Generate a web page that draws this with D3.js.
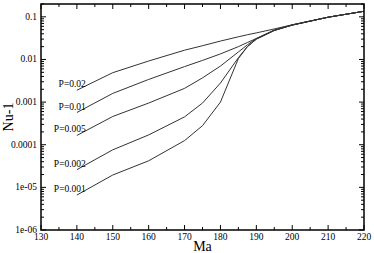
<!DOCTYPE html>
<html>
<head>
<meta charset="utf-8">
<script src="https://cdn.jsdelivr.net/npm/d3@7"></script>
<style>
  body { margin: 0; background: #fff; }
  svg text { font-family: "Liberation Serif", "DejaVu Serif", serif; fill: #000; }
</style>
</head>
<body>
<svg id="chart" width="374" height="253"></svg>
<script>
// Ma values (x) shared by every curve
const maValues = [140, 150, 160, 170, 175, 180, 185, 187.5, 190, 195, 200, 210, 220];

// Nu-1 for each P
const p002 = [0.0019, 0.0049, 0.0092, 0.0165, 0.021, 0.027, 0.034, 0.038, 0.042, 0.052, 0.065, 0.098, 0.135];
const p001 = [0.00057, 0.0016, 0.0034, 0.0068, 0.0095, 0.0135, 0.02, 0.025, 0.031, 0.049, 0.065, 0.098, 0.135];
const p0005 = [0.000165, 0.00046, 0.00095, 0.0021, 0.0037, 0.007, 0.015, 0.022, 0.031, 0.048, 0.064, 0.098, 0.135];
const p0002 = [0.000026, 0.000076, 0.00017, 0.00045, 0.00095, 0.0028, 0.011, 0.02, 0.03, 0.048, 0.064, 0.098, 0.135];
const p0001 = [0.0000066, 0.0000195, 0.000042, 0.000125, 0.00028, 0.001, 0.0105, 0.02, 0.03, 0.048, 0.064, 0.098, 0.135];

const seriesNames = ["P=0.02", "P=0.01", "P=0.005", "P=0.002", "P=0.001"];
const seriesValues = [p002, p001, p0005, p0002, p0001];

const xTicks = [130, 140, 150, 160, 170, 180, 190, 200, 210, 220];
const yTicks = [1e-6, 1e-5, 1e-4, 1e-3, 1e-2, 1e-1];
const yTickLabels = ["1e-06", "1e-05", "0.0001", "0.001", "0.01", "0.1"];

const svg = d3.select("#chart");
const margin = {top: 4, right: 10, bottom: 23, left: 41};
const W = 374, H = 253;
const iw = W - margin.left - margin.right;
const ih = H - margin.top - margin.bottom;

const x = d3.scaleLinear().domain([130, 220]).range([0, iw]);
const y = d3.scaleLog().domain([1e-6, 0.2]).range([ih, 0]);

const g = svg.append("g").attr("transform", `translate(${margin.left},${margin.top})`);

// minor ticks
const xMinor = d3.range(135, 220, 10);
const yMinor = [];
for (let e = -6; e <= -1; e++) {
  for (let m = 2; m <= 9; m++) {
    const v = m * Math.pow(10, e);
    if (v <= 0.2) yMinor.push(v);
  }
}

const tickG = g.append("g").attr("stroke", "#000").attr("stroke-width", 1);
xTicks.forEach(t => {
  tickG.append("line").attr("x1", x(t)).attr("x2", x(t)).attr("y1", ih).attr("y2", ih - 5);
  tickG.append("line").attr("x1", x(t)).attr("x2", x(t)).attr("y1", 0).attr("y2", 5);
});
xMinor.forEach(t => {
  tickG.append("line").attr("x1", x(t)).attr("x2", x(t)).attr("y1", ih).attr("y2", ih - 3);
  tickG.append("line").attr("x1", x(t)).attr("x2", x(t)).attr("y1", 0).attr("y2", 3);
});
yTicks.forEach(t => {
  tickG.append("line").attr("x1", 0).attr("x2", 5).attr("y1", y(t)).attr("y2", y(t));
  tickG.append("line").attr("x1", iw).attr("x2", iw - 5).attr("y1", y(t)).attr("y2", y(t));
});
yMinor.forEach(t => {
  tickG.append("line").attr("x1", 0).attr("x2", 3).attr("y1", y(t)).attr("y2", y(t));
  tickG.append("line").attr("x1", iw).attr("x2", iw - 3).attr("y1", y(t)).attr("y2", y(t));
});

// tick labels
g.append("g").selectAll("text")
  .data(xTicks)
  .join("text")
    .attr("x", d => x(d))
    .attr("y", ih + 10)
    .attr("text-anchor", "middle")
    .style("font-size", "9.5px")
    .text(d => d);

g.append("g").selectAll("text")
  .data(yTicks)
  .join("text")
    .attr("x", -4)
    .attr("y", d => y(d) + 3)
    .attr("text-anchor", "end")
    .style("font-size", "9.5px")
    .text((d, i) => yTickLabels[i]);

// curves
const line = d3.line()
  .x((d, i) => x(maValues[i]))
  .y(d => y(d));

g.append("g").selectAll("path")
  .data(seriesValues)
  .join("path")
    .attr("fill", "none")
    .attr("stroke", "#333")
    .attr("stroke-width", 1)
    .attr("d", line);

// curve labels next to their first point
g.append("g").selectAll("text")
  .data(seriesNames)
  .join("text")
    .attr("x", x(maValues[0]) + 9)
    .attr("y", (d, i) => y(seriesValues[i][0]) - 3)
    .attr("text-anchor", "end")
    .style("font-size", "9.5px")
    .text(d => d);

// frame
g.append("rect")
  .attr("width", iw).attr("height", ih)
  .attr("fill", "none").attr("stroke", "#000").attr("stroke-width", 1.5);

// axis titles
svg.append("text")
  .attr("x", margin.left + iw / 2)
  .attr("y", 251)
  .attr("text-anchor", "middle")
  .style("font-size", "14px")
  .text("Ma");

svg.append("text")
  .attr("transform", `translate(13,${margin.top + 113}) rotate(-90)`)
  .attr("text-anchor", "middle")
  .style("font-size", "14px")
  .text("Nu-1");
</script>
</body>
</html>
